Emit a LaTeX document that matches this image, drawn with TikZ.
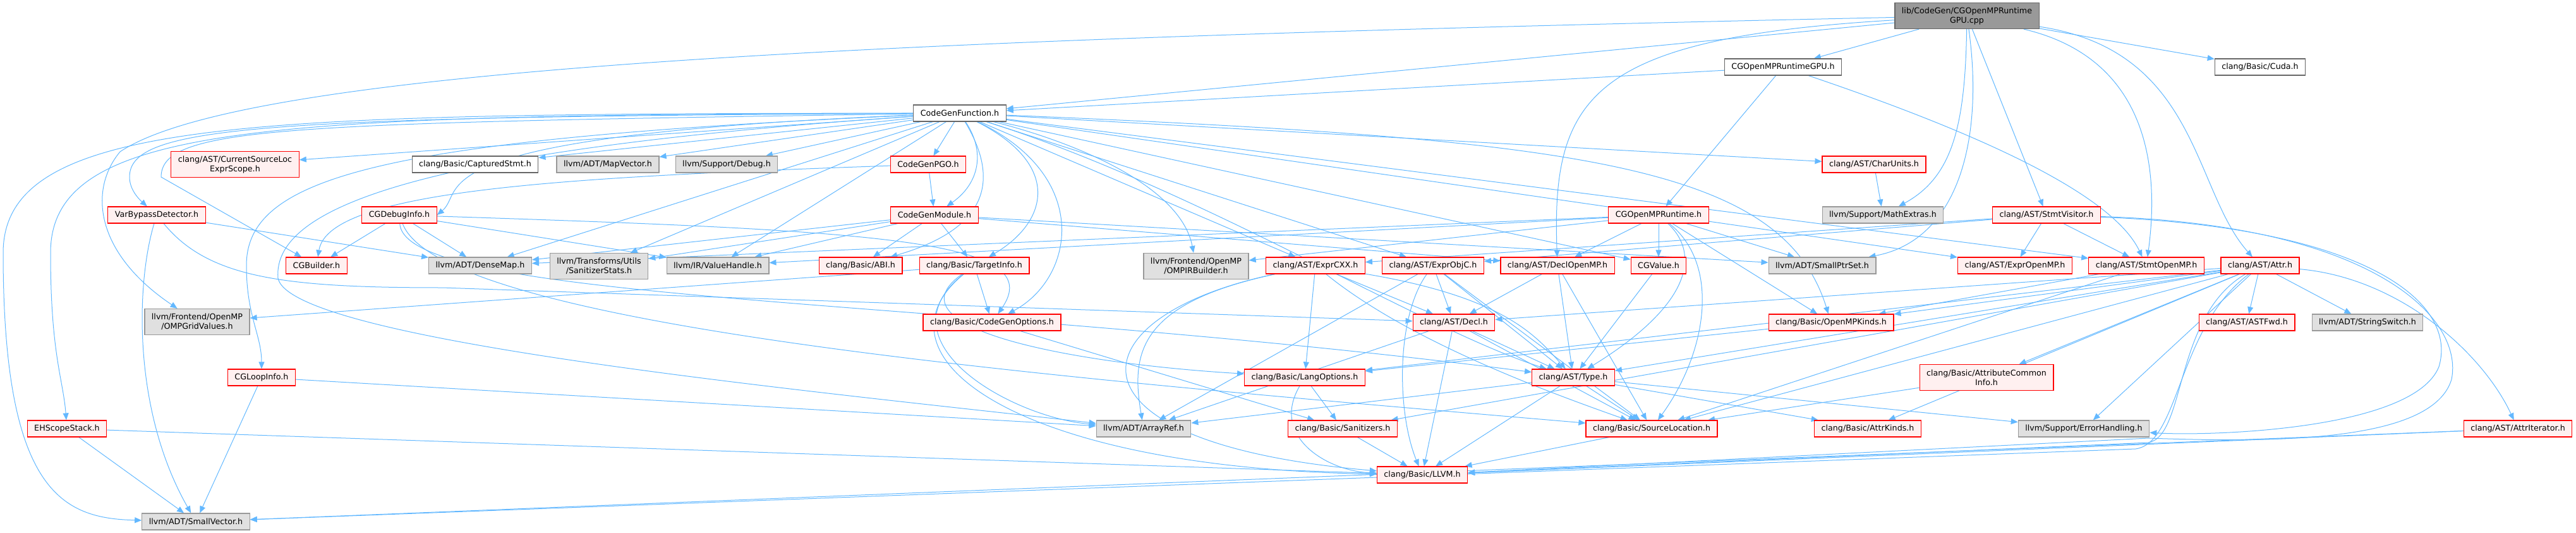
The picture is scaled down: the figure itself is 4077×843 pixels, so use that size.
\documentclass[tikz,border=0pt]{standalone}
\usepackage{fontspec}
\setmainfont{DejaVu Sans}
\usepackage{tikz}
\usetikzlibrary{
  arrows.meta,
  backgrounds
}
\definecolor{edgeblue}{HTML}{63B8FF}
\definecolor{redfill}{HTML}{FFF0F0}
\definecolor{grayfill}{HTML}{E0E0E0}
\definecolor{grayline}{HTML}{999999}
\definecolor{darkline}{HTML}{666666}
\definecolor{rootfill}{HTML}{999999}
\tikzset{
  hbox/.style={draw, line width=1.2pt, font=\fontsize{12.7}{15}\selectfont,
    inner xsep=11pt, inner ysep=0pt, minimum height=26pt, align=center},
  redbox/.style={hbox, draw=red, fill=redfill},
  graybox/.style={hbox, draw=grayline, fill=grayfill},
  whitebox/.style={hbox, draw=darkline, fill=white},
  rootbox/.style={hbox, draw=darkline, fill=rootfill},
  twoline/.style={minimum height=41pt},
  dep/.style={-{Triangle[length=11pt,width=9pt]}, draw=edgeblue, line width=1pt},
}

\begin{document}
\begin{tikzpicture}[x=1pt, y=-1pt]
  \useasboundingbox (0,0) rectangle (4077,843);

  % Top: the source file and its direct headers
  \node[rootbox, twoline] (root) at (3113,25) {lib/CodeGen/CGOpenMPRuntime\\GPU.cpp};
  \node[whitebox] (gpuh) at (2822,106) {CGOpenMPRuntimeGPU.h};
  \node[whitebox] (cuda) at (3577,106) {clang/Basic/Cuda.h};
  \node[whitebox] (cgf) at (1519,179) {CodeGenFunction.h};

  % Row 3
  \node[redbox, twoline] (csl) at (372,260) {clang/AST/CurrentSourceLoc\\ExprScope.h};
  \node[whitebox] (capt) at (752,260) {clang/Basic/CapturedStmt.h};
  \node[graybox] (mapv) at (962,260) {llvm/ADT/MapVector.h};
  \node[graybox] (dbg) at (1150,260) {llvm/Support/Debug.h};
  \node[redbox] (pgo) at (1469,260) {CodeGenPGO.h};
  \node[redbox] (charu) at (2966,260) {clang/AST/CharUnits.h};

  % Row 4
  \node[redbox] (vbd) at (248,340) {VarBypassDetector.h};
  \node[redbox] (dbgi) at (632,340) {CGDebugInfo.h};
  \node[redbox] (cgm) at (1479,340) {CodeGenModule.h};
  \node[redbox] (omprt) at (2625,340) {CGOpenMPRuntime.h};
  \node[graybox] (mathx) at (2980,340) {llvm/Support/MathExtras.h};
  \node[redbox] (stmtv) at (3239,340) {clang/AST/StmtVisitor.h};

  % Row 5
  \node[redbox] (bld) at (501,420) {CGBuilder.h};
  \node[graybox] (dmap) at (760,420) {llvm/ADT/DenseMap.h};
  \node[graybox, twoline] (sstat) at (948,421) {llvm/Transforms/Utils\\/SanitizerStats.h};
  \node[graybox] (vh) at (1136,420) {llvm/IR/ValueHandle.h};
  \node[redbox] (abi) at (1362,420) {clang/Basic/ABI.h};
  \node[redbox] (tinfo) at (1542,420) {clang/Basic/TargetInfo.h};
  \node[graybox, twoline] (irb) at (1893,421) {llvm/Frontend/OpenMP\\/OMPIRBuilder.h};
  \node[redbox] (excxx) at (2082,420) {clang/AST/ExprCXX.h};
  \node[redbox] (exobjc) at (2268,420) {clang/AST/ExprObjC.h};
  \node[redbox] (dompm) at (2465,420) {clang/AST/DeclOpenMP.h};
  \node[redbox] (cgval) at (2625,420) {CGValue.h};
  \node[graybox] (sps) at (2884,420) {llvm/ADT/SmallPtrSet.h};
  \node[redbox] (exomp) at (3189,420) {clang/AST/ExprOpenMP.h};
  \node[redbox] (somp) at (3397,420) {clang/AST/StmtOpenMP.h};
  \node[redbox] (attr) at (3577,420) {clang/AST/Attr.h};

  % Row 6
  \node[graybox, twoline] (grid) at (312,509) {llvm/Frontend/OpenMP\\/OMPGridValues.h};
  \node[redbox] (cgo) at (1570,510) {clang/Basic/CodeGenOptions.h};
  \node[redbox] (decl) at (2301,510) {clang/AST/Decl.h};
  \node[redbox] (ompk) at (2898,510) {clang/Basic/OpenMPKinds.h};
  \node[redbox] (fwd) at (3556,510) {clang/AST/ASTFwd.h};
  \node[graybox] (sswitch) at (3747,510) {llvm/ADT/StringSwitch.h};

  % Row 7
  \node[redbox] (loop) at (414,597) {CGLoopInfo.h};
  \node[redbox] (lang) at (2065,597) {clang/Basic/LangOptions.h};
  \node[redbox] (type) at (2490,597) {clang/AST/Type.h};
  \node[redbox, twoline] (aci) at (3144,597) {clang/Basic/AttributeCommon\\Info.h};

  % Row 8
  \node[redbox] (ehs) at (106,678) {EHScopeStack.h};
  \node[graybox] (aref) at (1810,678) {llvm/ADT/ArrayRef.h};
  \node[redbox] (san) at (2125,678) {clang/Basic/Sanitizers.h};
  \node[redbox] (sloc) at (2614,678) {clang/Basic/SourceLocation.h};
  \node[redbox] (akinds) at (2956,678) {clang/Basic/AttrKinds.h};
  \node[graybox] (errh) at (3298,678) {llvm/Support/ErrorHandling.h};
  \node[redbox] (aiter) at (3985,678) {clang/AST/AttrIterator.h};

  % Bottom
  \node[redbox] (llvmh) at (2251,751) {clang/Basic/LLVM.h};
  \node[graybox] (svec) at (310,825) {llvm/ADT/SmallVector.h};

  \begin{scope}[on background layer]
  % from the .cpp file
  \draw[dep] (root) -- (gpuh);
  \draw[dep] (root) -- (cgf);
  \draw[dep] (root) .. controls (1500,60) and (400,100) .. (190,240)
    .. controls (140,300) and (150,400) .. (grid);
  \draw[dep] (root) .. controls (2520,60) and (2455,150) .. (dompm);
  \draw[dep] (root) .. controls (3110,200) and (3090,280) .. (mathx);
  \draw[dep] (root) .. controls (3140,220) and (3100,380) .. (sps);
  \draw[dep] (root) -- (stmtv);
  \draw[dep] (root) .. controls (3390,90) and (3420,250) .. (somp);
  \draw[dep] (root) -- (cuda);
  \draw[dep] (root) .. controls (3480,80) and (3470,300) .. (attr);

  % CGOpenMPRuntimeGPU.h
  \draw[dep] (gpuh) -- (cgf);
  \draw[dep] (gpuh) -- (omprt);
  \draw[dep] (gpuh) .. controls (3100,200) and (3340,300) .. (somp);

  % CodeGenFunction.h
  \draw[dep] (cgf) -- (csl);
  \draw[dep] (cgf) -- (capt);
  \draw[dep] (cgf) -- (mapv);
  \draw[dep] (cgf) -- (dbg);
  \draw[dep] (cgf) -- (pgo);
  \draw[dep] (cgf) .. controls (1560,240) and (1550,290) .. (cgm);
  \draw[dep] (cgf) .. controls (400,185) and (205,200) .. (205,280)
    .. controls (205,300) and (220,315) .. (vbd);
  \draw[dep] (cgf) .. controls (640,215) and (740,300) .. (dbgi.east);
  \draw[dep] (cgf) .. controls (450,195) and (255,200) .. (255,280) -- (bld);
  \draw[dep] (cgf) .. controls (400,180) and (5,185) .. (5,400)
    .. controls (5,780) and (100,820) .. (svec);
  \draw[dep] (cgf) .. controls (420,182) and (80,195) .. (80,400)
    .. controls (80,560) and (100,600) .. (ehs);
  \draw[dep] (cgf) .. controls (600,220) and (390,280) .. (390,420)
    .. controls (390,500) and (414,530) .. (loop);
  \draw[dep] (cgf) .. controls (700,235) and (430,320) .. (440,440)
    .. controls (460,540) and (1300,620) .. (aref);
  \draw[dep] (cgf) -- (dmap);
  \draw[dep] (cgf) -- (sstat);
  \draw[dep] (cgf) -- (vh);
  \draw[dep] (cgf) .. controls (1580,280) and (1570,360) .. (abi);
  \draw[dep] (cgf) .. controls (1680,260) and (1660,350) .. (tinfo);
  \draw[dep] (cgf) .. controls (1730,280) and (1700,440) .. (cgo);
  \draw[dep] (cgf) .. controls (1720,230) and (1870,300) .. (irb);
  \draw[dep] (cgf) -- (excxx);
  \draw[dep] (cgf) -- (exobjc);
  \draw[dep] (cgf) -- (cgval);
  \draw[dep] (cgf) -- (charu);
  \draw[dep] (cgf) -- (exomp);
  \draw[dep] (cgf) -- (somp);
  \draw[dep] (cgf) .. controls (2500,220) and (2820,260) .. (ompk);
  \draw[dep] (cgf) .. controls (1900,300) and (2250,520) .. (type);

  % CodeGenPGO.h, CodeGenModule.h
  \draw[dep] (pgo) .. controls (900,280) and (520,300) .. (bld);
  \draw[dep] (pgo) -- (cgm);
  \draw[dep] (cgm) -- (abi);
  \draw[dep] (cgm) -- (tinfo);
  \draw[dep] (cgm) -- (dmap);
  \draw[dep] (cgm) -- (vh);
  \draw[dep] (cgm) -- (sstat);
  \draw[dep] (cgm) -- (sps);
  \draw[dep] (cgm) -- (dompm);

  % CGDebugInfo.h, VarBypassDetector.h
  \draw[dep] (dbgi) -- (bld);
  \draw[dep] (dbgi) -- (dmap);
  \draw[dep] (dbgi) -- (vh);
  \draw[dep] (dbgi) .. controls (1400,365) and (1660,380) .. (cgo);
  \draw[dep] (dbgi) .. controls (640,480) and (1500,470) .. (type);
  \draw[dep] (dbgi) .. controls (700,520) and (1700,600) .. (sloc);
  \draw[dep] (vbd) -- (dmap);
  \draw[dep] (vbd) .. controls (215,450) and (210,650) .. (svec);
  \draw[dep] (vbd) .. controls (330,440) and (450,455) .. (700,455) -- (decl);

  % CGOpenMPRuntime.h
  \draw[dep] (omprt) -- (cgval);
  \draw[dep] (omprt) -- (dompm);
  \draw[dep] (omprt) -- (dmap);
  \draw[dep] (omprt) -- (vh);
  \draw[dep] (omprt) -- (irb);
  \draw[dep] (omprt) -- (sps);
  \draw[dep] (omprt) -- (ompk);
  \draw[dep] (omprt) .. controls (2690,400) and (2680,480) .. (type);
  \draw[dep] (omprt) .. controls (2725,420) and (2700,560) .. (sloc);

  \draw[dep] (charu) -- (mathx);

  % StmtVisitor.h
  \draw[dep] (stmtv) -- (exomp);
  \draw[dep] (stmtv) -- (somp);
  \draw[dep] (stmtv) -- (excxx);
  \draw[dep] (stmtv) -- (exobjc);
  \draw[dep] (stmtv) .. controls (3750,360) and (3890,480) .. (3860,580)
    .. controls (3820,680) and (3500,690) .. (errh);
  \draw[dep] (stmtv) .. controls (3750,355) and (3900,500) .. (3880,600)
    .. controls (3850,700) and (3600,700) .. (3400,693) -- (llvmh);

  % TargetInfo.h, CodeGenOptions.h
  \draw[dep] (tinfo) -- (cgo);
  \draw[dep] (tinfo) -- (grid);
  \draw[dep] (tinfo) .. controls (1400,520) and (1700,575) .. (lang);
  \draw[dep] (tinfo) .. controls (1390,540) and (1600,660) .. (aref);
  \draw[dep] (tinfo) .. controls (1370,560) and (1600,740) .. (llvmh);
  \draw[dep] (cgo) -- (san);

  % AST headers
  \draw[dep] (excxx) -- (lang);
  \draw[dep] (excxx) -- (decl);
  \draw[dep] (excxx) .. controls (2380,470) and (2430,530) .. (type);
  \draw[dep] (excxx) .. controls (2230,540) and (2450,620) .. (sloc);
  \draw[dep] (excxx) .. controls (1800,480) and (1790,560) .. (aref);
  \draw[dep] (excxx) .. controls (1700,500) and (1660,700) .. (llvmh);
  \draw[dep] (exobjc) -- (decl);
  \draw[dep] (exobjc) -- (type);
  \draw[dep] (exobjc) -- (sloc);
  \draw[dep] (exobjc) -- (aref);
  \draw[dep] (exobjc) .. controls (2210,500) and (2210,650) .. (llvmh);
  \draw[dep] (dompm) -- (decl);
  \draw[dep] (dompm) -- (type);
  \draw[dep] (dompm) -- (sloc);
  \draw[dep] (cgval) -- (type);
  \draw[dep] (somp) -- (ompk);
  \draw[dep] (somp) -- (sloc);

  % clang/AST/Attr.h
  \draw[dep] (attr) -- (fwd);
  \draw[dep] (attr) -- (sswitch);
  \draw[dep] (attr) .. controls (3800,440) and (3930,560) .. (aiter);
  \draw[dep] (attr) -- (aci);
  \draw[dep] (attr) -- (akinds);
  \draw[dep] (attr) -- (errh);
  \draw[dep] (attr) -- (ompk);
  \draw[dep] (attr) -- (decl);
  \draw[dep] (attr) -- (type);
  \draw[dep] (attr) -- (lang);
  \draw[dep] (attr) -- (san);
  \draw[dep] (attr) -- (sloc);
  \draw[dep] (attr) .. controls (3440,500) and (3460,690) .. (3400,700) -- (llvmh);
  \draw[dep] (attr) .. controls (3445,520) and (3450,700) .. (3380,710) -- (svec);

  % lower rows
  \draw[dep] (loop) -- (svec);
  \draw[dep] (loop) -- (aref);
  \draw[dep] (ehs) -- (svec);
  \draw[dep] (ehs) -- (llvmh);
  \draw[dep] (decl) -- (type);
  \draw[dep] (decl) -- (sloc);
  \draw[dep] (decl) -- (llvmh);
  \draw[dep] (decl) -- (aref);
  \draw[dep] (type) -- (llvmh);
  \draw[dep] (type) -- (sloc);
  \draw[dep] (type) -- (errh);
  \draw[dep] (type) -- (akinds);
  \draw[dep] (type) -- (aref);
  \draw[dep] (lang) -- (san);
  \draw[dep] (lang) .. controls (2010,690) and (2100,745) .. (llvmh);
  \draw[dep] (san) -- (llvmh);
  \draw[dep] (sloc) -- (llvmh);
  \draw[dep] (ompk) -- (lang);
  \draw[dep] (aci) -- (sloc);
  \draw[dep] (aiter) -- (llvmh);
  \draw[dep] (aiter) -- (svec);
  \end{scope}
\end{tikzpicture}
\end{document}
